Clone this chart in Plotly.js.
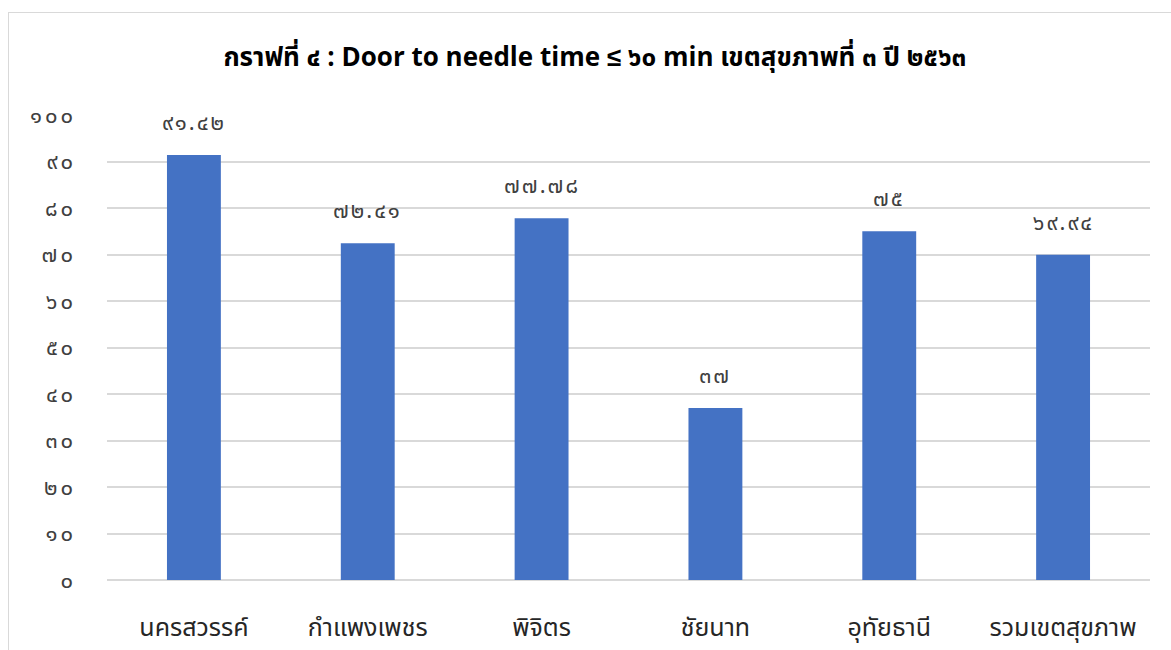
<!DOCTYPE html>
<html>
<head>
<meta charset="utf-8">
<script src="https://cdn.plot.ly/plotly-3.0.1.min.js"></script>
<style>
  html, body { margin: 0; padding: 0; background: #ffffff; }
  #chart { width: 1171px; height: 650px; }
  #frame { position: absolute; left: 8px; top: 12px; width: 1170px; height: 650px; border: 1.5px solid #d9d9d9; box-sizing: border-box; pointer-events: none; }
  /* Thai numerals look cramped in the fallback font; open them up a little */
  #chart .ytick text { letter-spacing: 3px; }
  #chart .annotation-text { letter-spacing: 2px; }
</style>
</head>
<body>
<div id="chart"></div>
<div id="frame"></div>
<script>
// Provinces of Health Region 3 and the region total
const categories = ['นครสวรรค์', 'กำแพงเพชร', 'พิจิตร', 'ชัยนาท', 'อุทัยธานี', 'รวมเขตสุขภาพ'];
// Percentage of patients with door-to-needle time ≤ 60 min
const values = [91.42, 72.41, 77.78, 37, 75, 69.94];
// Y axis ticks, written in Thai numerals
const tickValues = [0, 10, 20, 30, 40, 50, 60, 70, 80, 90, 100];

const thaiDigits = ['๐', '๑', '๒', '๓', '๔', '๕', '๖', '๗', '๘', '๙'];
function toThai(n) {
  return String(n).replace(/[0-9]/g, d => thaiDigits[+d]);
}

const thaiFont = '"Noto Sans Thai", "Noto Sans", Tahoma, sans-serif';

const trace = {
  type: 'bar',
  x: categories,
  y: values,
  marker: { color: '#4472c4' },
  hoverinfo: 'skip'
};

// Value labels above each bar
const labels = categories.map((c, i) => ({
  x: c,
  y: values[i],
  xref: 'x',
  yref: 'y',
  text: toThai(values[i]),
  showarrow: false,
  xanchor: 'center',
  yanchor: 'bottom',
  yshift: 13,
  font: { family: thaiFont, size: 22, color: '#404040' }
}));

const layout = {
  width: 1171,
  height: 650,
  margin: { l: 107, r: 21, t: 115, b: 70 },
  paper_bgcolor: '#ffffff',
  plot_bgcolor: '#ffffff',
  bargap: 0.69,
  showlegend: false,
  annotations: labels,
  title: {
    text: '<b>กราฟที่ ๔ : Door to needle time ≤ ๖๐ min เขตสุขภาพที่ ๓ ปี ๒๕๖๓</b>',
    font: { family: thaiFont, size: 26, color: '#000000' },
    x: 0.508, xanchor: 'center',
    y: 0.912, yanchor: 'middle'
  },
  xaxis: {
    tickfont: { family: thaiFont, size: 25, color: '#262626' },
    showline: false,
    ticks: '',
    showgrid: false,
    ticklabelstandoff: 30
  },
  yaxis: {
    range: [0, 100],
    tickvals: tickValues,
    ticktext: tickValues.map(toThai),
    tickfont: { family: thaiFont, size: 22, color: '#404040' },
    gridcolor: '#d9d9d9',
    gridwidth: 2,
    zeroline: true,
    zerolinecolor: '#d9d9d9',
    zerolinewidth: 2,
    ticks: '',
    ticklabelstandoff: 30
  }
};

Plotly.newPlot('chart', [trace], layout, { staticPlot: true });
</script>
</body>
</html>
